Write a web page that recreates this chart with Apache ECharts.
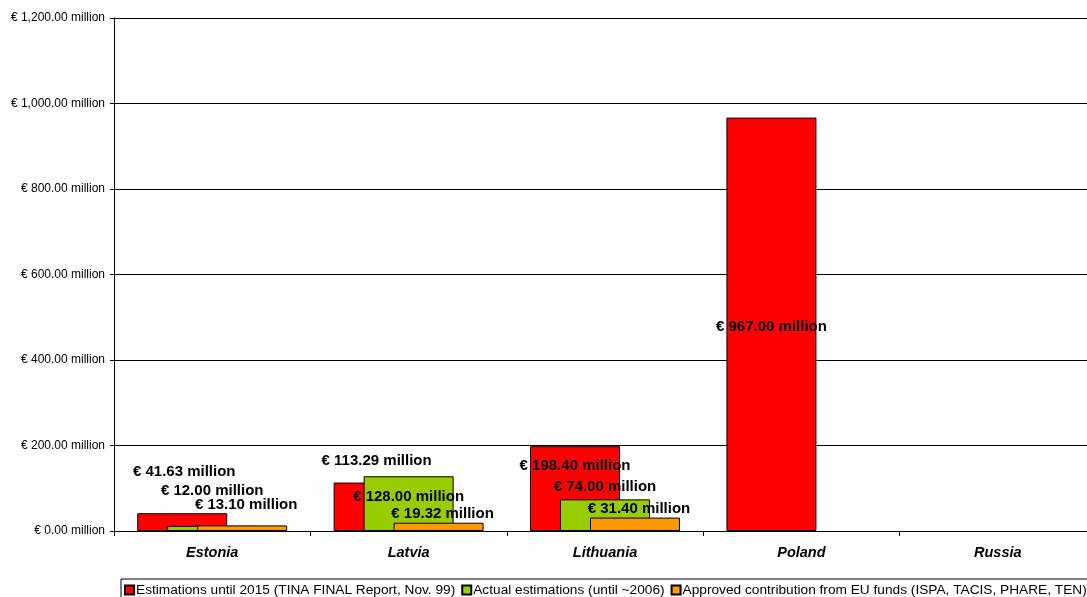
<!DOCTYPE html>
<html>
<head>
<meta charset="utf-8">
<script src="https://cdn.jsdelivr.net/npm/echarts@6/dist/echarts.min.js"></script>
<style>
	html, body{margin:0; padding:0; background:#fff;}
	#myChart{width:1087px; height:597px;}
</style>
</head>
<body>
<div id="myChart"></div>
<script>
	var countries = ['Estonia', 'Latvia', 'Lithuania', 'Poland', 'Russia'];
	var seriesNames = [
		'Estimations until 2015 (TINA FINAL Report, Nov. 99)',
		'Actual estimations (until ~2006)',
		'Approved contribution from EU funds (ISPA, TACIS, PHARE, TEN)'
	];
	// million euro
	var tinaEstimates = [41.63, 113.29, 198.40, 967.00, null];
	var actualEstimates = [12.00, 128.00, 74.00, null, null];
	var euContribution = [13.10, 19.32, 31.40, null, null];
	// label shifts, as placed by hand in the original
	var labelShift = [
		[[2, -29], [-2, -9], [0, 32], [0, 222], [0, 0]],
		[[0, -23], [0, 33], [0, 0], [0, 0], [0, 0]],
		[[4, -8], [4, 4], [4, 4], [0, 0], [0, 0]]
	];
	var colors = ['#ff0000', '#99cc00', '#ff9900'];

	function money(v) {
		var s = Number(v).toFixed(2).replace(/\B(?=(\d{3})+(?!\d))/g, ',');
		return '€ ' + s + ' million';
	}

	function makeSeries(idx, values) {
		return {
			name: seriesNames[idx],
			type: 'bar',
			barWidth: 90,
			barGap: '-66.7%',
			itemStyle: {color: colors[idx], borderColor: '#000', borderWidth: 1},
			data: values.map(function(v, i) {
				return {
					value: v,
					label: {offset: labelShift[idx][i]}
				};
			}),
			label: {
				show: true,
				position: 'top',
				fontFamily: 'Liberation Sans, Arial',
				fontSize: 15,
				fontWeight: 'bold',
				color: '#000',
				formatter: function(p) { return p.value == null ? '' : money(p.value); }
			}
		};
	}

	var myChart = echarts.init(document.getElementById('myChart'));
	var option = {
		animation: false,
		textStyle: {fontFamily: 'Liberation Sans, Arial'},
		// plot area runs a little past the right edge, as in the original
		grid: {left: 114, width: 982, top: 18, bottom: 66, outerBoundsMode: 'none', containLabel: false},
		legend: {
			left: 121,
			top: 579,
			width: 1000,
			padding: [4, 4, 6, 3],
			itemGap: 6,
			itemWidth: 9,
			itemHeight: 9,
			icon: 'rect',
			borderColor: '#000',
			borderWidth: 1,
			textStyle: {fontSize: 13.7, color: '#000', padding: [0, 0, 0, -3]},
			data: seriesNames
		},
		xAxis: {
			type: 'category',
			data: countries,
			axisLine: {lineStyle: {color: '#000'}},
			axisTick: {show: true, length: 5, lineStyle: {color: '#000'}},
			axisLabel: {fontSize: 14.5, fontWeight: 'bold', fontStyle: 'italic', color: '#000', margin: 14}
		},
		yAxis: {
			type: 'value',
			min: 0,
			max: 1200,
			interval: 200,
			axisLine: {show: true, lineStyle: {color: '#000'}},
			axisTick: {show: true, length: 4, lineStyle: {color: '#000'}},
			splitLine: {lineStyle: {color: '#000', width: 1}},
			axisLabel: {fontSize: 12, color: '#000', margin: 9, formatter: money}
		},
		series: [
			makeSeries(0, tinaEstimates),
			makeSeries(1, actualEstimates),
			makeSeries(2, euContribution)
		]
	};
	myChart.setOption(option);
</script>
</body>
</html>
